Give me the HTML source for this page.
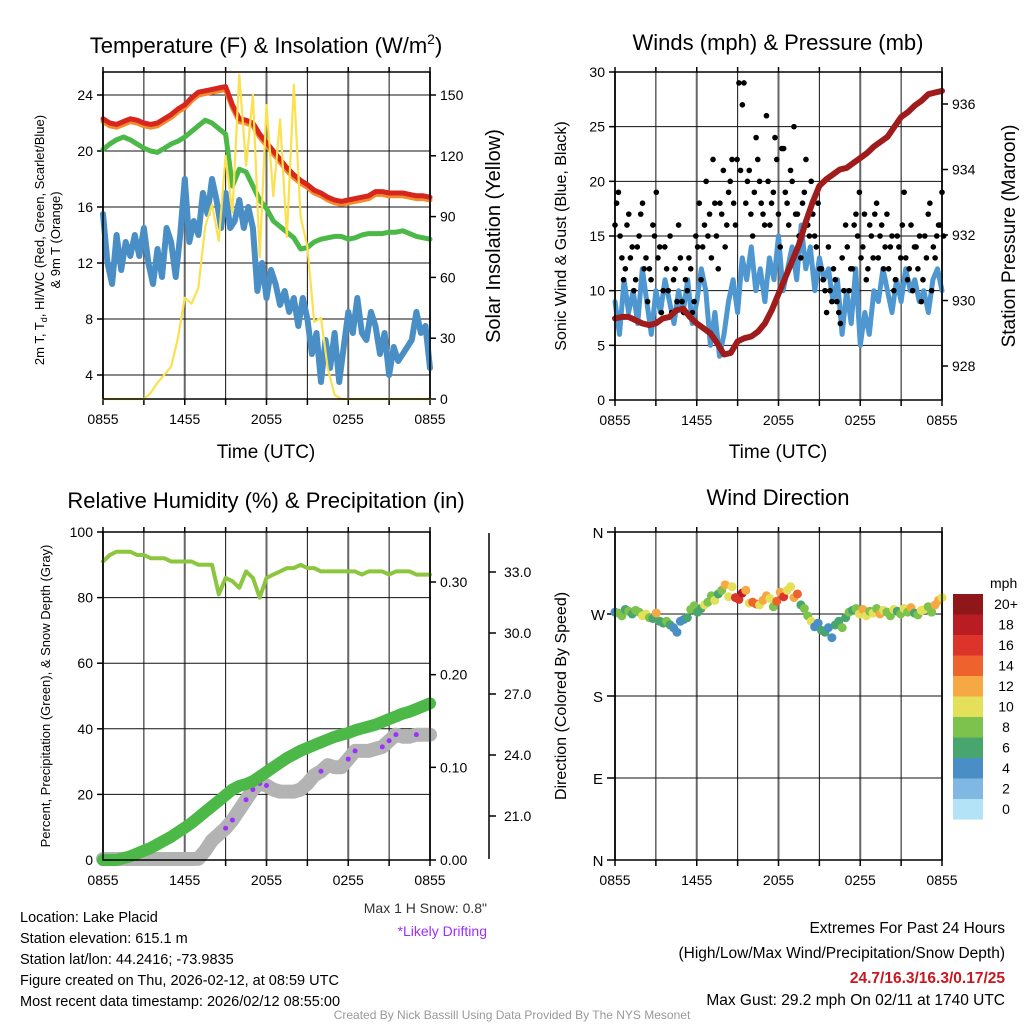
<!DOCTYPE html>
<html><head><meta charset="utf-8"><style>
html,body{margin:0;padding:0;background:#fff;}
svg{display:block;font-family:"Liberation Sans",sans-serif;}
</style></head><body>
<svg id="chart" width="1024" height="1024" viewBox="0 0 1024 1024" xmlns="http://www.w3.org/2000/svg">
<rect x="0" y="0" width="1024" height="1024" fill="#fff"/>
<g id="layer"></g>
<text x="266" y="53" font-size="22" text-anchor="middle">Temperature (F) &amp; Insolation (W/m<tspan dy="-9" font-size="14">2</tspan><tspan dy="9">)</tspan></text>
<text x="778" y="50" font-size="22" text-anchor="middle">Winds (mph) &amp; Pressure (mb)</text>
<text x="266" y="508" font-size="22" text-anchor="middle">Relative Humidity (%) &amp; Precipitation (in)</text>
<text x="778" y="505" font-size="22" text-anchor="middle">Wind Direction</text>
<text x="266" y="458" font-size="19" text-anchor="middle">Time (UTC)</text>
<text x="778" y="458" font-size="19" text-anchor="middle">Time (UTC)</text>
<text transform="translate(44,240) rotate(-90)" font-size="13" text-anchor="middle">2m T, T<tspan dy="3" font-size="9">d</tspan><tspan dy="-3">, HI/WC (Red, Green, Scarlet/Blue)</tspan></text>
<text transform="translate(60,240) rotate(-90)" font-size="13" text-anchor="middle">&amp; 9m T (Orange)</text>
<text transform="translate(500,236) rotate(-90)" font-size="20" text-anchor="middle">Solar Insolation (Yellow)</text>
<text transform="translate(566,236) rotate(-90)" font-size="16" text-anchor="middle">Sonic Wind &amp; Gust (Blue, Black)</text>
<text transform="translate(1015,236) rotate(-90)" font-size="19" text-anchor="middle">Station Pressure (Maroon)</text>
<text transform="translate(50,696) rotate(-90)" font-size="13" text-anchor="middle">Percent, Precipitation (Green), &amp; Snow Depth (Gray)</text>
<text transform="translate(566,696) rotate(-90)" font-size="16" text-anchor="middle">Direction (Colored By Speed)</text>
<text x="487" y="913" font-size="14" text-anchor="end" fill="#333">Max 1 H Snow: 0.8"</text>
<text x="487" y="936" font-size="14" text-anchor="end" fill="#9b30ff">*Likely Drifting</text>
<g font-size="14.5">
<text x="20" y="922">Location: Lake Placid</text>
<text x="20" y="943">Station elevation: 615.1 m</text>
<text x="20" y="964">Station lat/lon: 44.2416; -73.9835</text>
<text x="20" y="985">Figure created on Thu, 2026-02-12, at 08:59 UTC</text>
<text x="20" y="1006">Most recent data timestamp: 2026/02/12 08:55:00</text>
</g>
<g font-size="15.5" text-anchor="end">
<text x="1005" y="933">Extremes For Past 24 Hours</text>
<text x="1005" y="958">(High/Low/Max Wind/Precipitation/Snow Depth)</text>
<text x="1005" y="983" fill="#c8171e" font-weight="bold">24.7/16.3/16.3/0.17/25</text>
<text x="1005" y="1005">Max Gust: 29.2 mph On 02/11 at 1740 UTC</text>
</g>
<text x="512" y="1019" font-size="12" text-anchor="middle" fill="#999">Created By Nick Bassill Using Data Provided By The NYS Mesonet</text>
</svg>
<script>
const xTickLabels = ['0855','1455','2055','0255','0855'];
const tempTicks = [4,8,12,16,20,24];
const solarTicks = [0,30,60,90,120,150];
const windTicks = [0,5,10,15,20,25,30];
const pressTicks = [928,930,932,934,936];
const rhTicks = [0,20,40,60,80,100];
const precipTicks = [0,0.1,0.2,0.3];
const snowTicks = [21,24,27,30,33];
const dirTickLabels = ['N','E','S','W','N'];
const dirTicks = [0,90,180,270,360];
const speedBins = ['0','2','4','6','8','10','12','14','16','18','20+'];
const speedColors = ['#b3e3f7','#7fb9e3','#4a8ec6','#48a56e','#7cc24c','#e5e05a','#f5a843','#ee622d','#dc342a','#ba1c24','#901719'];

const tempRed = [22.3,22.0,21.9,22.1,22.3,22.2,22.0,21.9,22.0,22.3,22.6,23.0,23.3,23.8,24.2,24.3,24.4,24.5,24.6,23.3,22.3,22.2,22.0,21.2,20.6,20.0,19.4,18.8,18.3,17.9,17.6,17.2,17.0,16.7,16.5,16.4,16.5,16.6,16.7,16.8,17.1,17.1,17.0,17.0,17.0,16.9,16.8,16.8,16.7];
const temp9m = [22.1,21.8,21.7,21.9,22.1,22.0,21.8,21.7,21.8,22.1,22.4,22.8,23.1,23.6,24.0,24.1,24.2,24.3,24.4,23.1,22.1,22.0,21.8,21.0,20.4,19.8,19.2,18.6,18.1,17.7,17.4,17.0,16.8,16.5,16.3,16.2,16.3,16.4,16.5,16.6,16.9,16.9,16.8,16.8,16.8,16.7,16.6,16.6,16.5];
const tempGreen = [20.1,20.5,20.8,21.0,20.8,20.5,20.2,20.0,19.9,20.2,20.5,20.7,21.0,21.4,21.8,22.2,22.0,21.6,21.2,17.5,18.7,18.5,17.5,16.5,15.9,15.0,14.6,14.2,13.8,13.0,13.1,13.5,13.7,13.8,13.9,13.9,13.7,13.8,14.0,14.1,14.1,14.1,14.2,14.2,14.3,14.1,13.9,13.8,13.7];
const dewBlue = [15.5,12,10.5,14,11.5,13.5,12.5,14,12.5,14.5,12,10.5,13,11,14.5,13.5,11,14,18,13.5,15,14,17,15.5,18,16.5,14.5,17,14.5,15,16.5,14.5,16,14.5,10,12,9.5,11.5,10.5,9,10,8.5,9.5,7.5,9.5,8,5.5,7,3.5,6.5,4.5,7,3.5,6,8.5,7,9.5,7,6.5,8.5,7.5,5.5,7,4,6,5,5.5,6,6.5,8.5,7,7.5,4.5];
const solar = [0,0,0,0,0,0,0,3,8,12,16,30,50,47,55,85,96,78,120,92,160,115,150,70,145,100,138,80,155,90,75,38,40,15,2,0,0,0,0,0,0,0,0,0,0,0,0,0,0];

const windSpeed = [9,6,11,8,10,7,12,9,6,10,8,11,9,7,10,8,11,7,9,12,10,5,8,4,6,9,11,8,13,11,14,10,12,9,13,11,15,10,12,14,11,16,12,14,10,13,11,12,9,11,6,10,7,12,5,8,6,10,9,12,10,8,11,9,12,10,11,9,10,8,11,12,10];
const gusts = [16,19,13,12,17,14,11,15,18,13,12,16,19,14,10,12,15,11,9,13,8,10,12,9,14,11,16,15,13,18,12,17,14,19,22,16,29,27,18,21,15,24,20,17,26,16,19,22,14,23,18,21,25,17,13,19,16,20,15,18,12,10,14,9,11,8,13,16,10,12,17,19,14,11,16,13,18,15,12,17,14,10,15,13,19,11,16,14,12,9,15,17,10,13,16,19];
const gusts2 = [18,15,11,16,13,10,14,17,12,9,11,15,13,8,14,10,8,12,16,9,11,13,8,15,18,14,20,17,22,15,18,21,16,20,18,22,21,29,20,17,19,22,18,16,20,18,24,17,23,19,16,20,17,15,18,22,15,17,14,12,11,8,10,12,9,7,10,14,12,16,15,13,17,12,15,17,13,16,14,12,15,11,14,16,13,12,10,14,15,11,13,18,14,15,16,15];
const pressure = [929.45,929.5,929.5,929.4,929.3,929.25,929.3,929.45,929.5,929.7,929.75,929.5,929.3,929.15,929.0,928.7,928.35,928.4,928.75,928.85,928.9,929.05,929.3,929.7,930.2,930.7,931.2,931.7,932.4,933.0,933.5,933.7,933.85,934.0,934.05,934.2,934.35,934.5,934.7,934.85,935.0,935.3,935.6,935.75,935.95,936.1,936.3,936.35,936.4];

const rh = [91,93,94,94,94,93,93,92,92,92,91,91,91,91,90,90,90,81,86,85,83,88,86,80,86,87,88,89,89,90,89,89,88,88,88,88,88,88,87,88,88,88,87,88,88,88,87,87,87];
const precip = [0,0,0,0.002,0.004,0.007,0.010,0.013,0.017,0.021,0.025,0.030,0.035,0.040,0.046,0.052,0.058,0.064,0.070,0.076,0.080,0.082,0.085,0.090,0.095,0.100,0.105,0.110,0.114,0.118,0.121,0.124,0.127,0.130,0.133,0.135,0.137,0.140,0.142,0.144,0.146,0.149,0.152,0.155,0.158,0.160,0.163,0.166,0.169];
const snowDepth = [18.5,18.5,18.5,18.5,18.5,18.5,18.5,18.5,18.5,18.5,18.5,18.5,18.5,18.5,18.9,19.3,19.8,20.1,20.4,20.8,21.3,21.8,22.3,22.6,22.5,22.3,22.2,22.2,22.2,22.3,22.6,23.0,23.2,23.5,23.4,23.4,23.8,24.2,24.2,24.2,24.3,24.4,24.7,25.0,24.9,24.9,25.0,25.0,25.0];
const driftIdx = [18,19,21,22,23,24,32,36,37,41,42,43,46];

const windDir = [272,271,268,275,273,270,274,272,268,270,266,265,271,262,260,262,258,255,250,262,264,266,275,279,272,276,280,283,290,285,292,296,302,289,300,288,286,293,296,282,283,281,280,285,290,287,278,284,294,289,296,300,288,292,280,276,268,262,256,260,252,250,255,244,258,262,255,266,272,274,276,270,275,268,273,271,276,270,274,272,268,275,273,270,276,272,277,271,269,274,275,278,272,280,285,288];
const dirSpeed = [5,9,8,7,8,6,8,9,10,11,8,7,12,7,6,8,7,5,4,5,4,6,8,9,7,6,10,9,8,11,6,9,12,10,11,16,17,18,12,11,15,14,10,12,13,11,9,14,12,17,10,11,13,14,7,8,9,10,4,5,6,7,5,4,6,7,8,6,9,7,8,11,12,10,9,11,8,13,10,9,8,11,7,9,10,8,12,7,9,11,10,8,9,12,13,11];

const NS='http://www.w3.org/2000/svg';
const layer=document.getElementById('layer');
function mk(tag,a,parent){const e=document.createElementNS(NS,tag);for(const k in a)e.setAttribute(k,a[k]);(parent||layer).appendChild(e);return e;}
function lin(d0,d1,p0,p1){return v=>p0+(v-d0)/(d1-d0)*(p1-p0);}
function tAt(i,n){return i*24/(n-1);}
function pathFrom(arr,X,Y,clipY){return arr.map((v,i)=>{let y=Y(v);if(clipY!==undefined)y=Math.min(y,clipY);return (i?'L':'M')+X(tAt(i,arr.length)).toFixed(1)+','+y.toFixed(1);}).join('');}

function frame(x0,x1,y0,y1,X,hVals,hY){
  for(let h=0;h<=24;h+=3){
    const ln=mk('line',{x1:X(h),x2:X(h),y1:y0,y2:y1,stroke:h%6===0?'#666':'#111','stroke-width':h%6===0?2:1});
    
    
    const tk=mk('line',{x1:X(h),x2:X(h),y1:y1,y2:y1+6,stroke:'#000','stroke-width':1.5});
    
    
    const tt=mk('line',{x1:X(h),x2:X(h),y1:y0-5,y2:y0,stroke:'#000','stroke-width':1.5});
    
    
  }
  hVals.forEach(v=>{
    const ln=mk('line',{x1:x0,x2:x1,y1:hY(v),y2:hY(v),stroke:'#111','stroke-width':1});
    
    
  });
  xTickLabels.forEach((s,i)=>{
    const t=mk('text',{x:X(i*6),y:y1+25,'font-size':14,'text-anchor':'middle'});
    t.textContent=s;
    
    
  });
}
function box(x0,x1,y0,y1){
  const r=mk('rect',{x:x0,y:y0,width:x1-x0,height:y1-y0,fill:'none',stroke:'#000','stroke-width':1.5});
  
  
}
function leftTicks(vals,Y,x,fmt){
  vals.forEach(v=>{
    const t=mk('text',{x:x-10,y:Y(v)+5,'font-size':14,'text-anchor':'end'});
    t.textContent=fmt?fmt(v):v;
    
    
    const tk=mk('line',{x1:x-6,x2:x,y1:Y(v),y2:Y(v),stroke:'#000','stroke-width':1.5});
    
    
  });
}
function rightTicks(vals,Y,x,fmt){
  vals.forEach(v=>{
    const t=mk('text',{x:x+10,y:Y(v)+5,'font-size':14,'text-anchor':'start'});
    t.textContent=fmt?fmt(v):v;
    
    
    const tk=mk('line',{x1:x,x2:x+6,y1:Y(v),y2:Y(v),stroke:'#000','stroke-width':1.5});
    
    
  });
}
function line(d,color,w,name){
  const p=mk('path',{d:d,fill:'none',stroke:color,'stroke-width':w,'stroke-linejoin':'round','stroke-linecap':'round'});
  
  
  return p;
}

const X1=lin(0,24,103,430), Yt=lin(4,24,375,95), Ys=lin(0,150,399,95);
frame(103,430,72,399,X1,tempTicks,Yt);
leftTicks(tempTicks,Yt,103);
rightTicks(solarTicks,Ys,430);
line(pathFrom(dewBlue,X1,Yt),'#4a8ec6',6,'dewpoint-line');
line(pathFrom(tempGreen,X1,Yt),'#4cb848',5,'heat-index-line');
line(pathFrom(temp9m,X1,Yt),'#f58a2c',5,'temp-9m-line');
line(pathFrom(tempRed,X1,Yt),'#d7261e',5,'temp-2m-line');
line(pathFrom(solar,X1,Ys),'#fbe14e',2.2,'insolation-line');
box(103,430,72,399);

const X2=lin(0,24,615,942), Yw=lin(0,30,400,72), Yp=lin(928,936,366,104);
frame(615,942,72,400,X2,[5,10,15,20,25],Yw);
leftTicks(windTicks,Yw,615);
rightTicks(pressTicks,Yp,942);
line(pathFrom(windSpeed,X2,Yw),'#4e97d1',5,'wind-speed-line');
[gusts,gusts2].forEach((arr,k)=>{
  arr.forEach((v,i)=>{
    const c=mk('circle',{cx:X2(tAt(i,arr.length)+k*0.12),cy:Yw(v),r:2.8,fill:'#000'});
    
    
  });
});
line(pathFrom(pressure,X2,Yp),'#a01b1b',6,'pressure-line');
box(615,942,72,400);

const Yrh=lin(0,100,860,532), Ypr=lin(0,0.3,860,582), Ysn=lin(21,33,816,572);
frame(103,430,532,860,X1,[20,40,60,80],Yrh);
leftTicks(rhTicks,Yrh,103);
rightTicks(precipTicks,Ypr,430,v=>v.toFixed(2));
const sAx=mk('line',{x1:489,x2:489,y1:533,y2:859,stroke:'#000','stroke-width':1.5});


snowTicks.forEach(v=>{
  const t=mk('text',{x:504,y:Ysn(v)+5,'font-size':14});
  t.textContent=v.toFixed(1);
  
  
  const tk=mk('line',{x1:489,x2:496,y1:Ysn(v),y2:Ysn(v),stroke:'#000','stroke-width':1.5});
  
  
});
line(pathFrom(snowDepth,X1,Ysn,859),'#b3b3b3',14,'snow-depth-line');
driftIdx.forEach(i=>{
  const c=mk('circle',{cx:X1(tAt(i,snowDepth.length)),cy:Math.min(Ysn(snowDepth[i]),859),r:2.5,fill:'#9b30ff'});
  
  
});
line(pathFrom(precip,X1,Ypr),'#4cb848',12,'precipitation-line');
line(pathFrom(rh,X1,Yrh),'#8cc63f',4,'humidity-line');
box(103,430,532,860);

const Yd=lin(0,360,860,532);
frame(615,942,532,860,X2,[90,180,270],Yd);
dirTicks.forEach((v,i)=>{
  const t=mk('text',{x:598,y:Yd(v)+6,'font-size':15,'text-anchor':'middle'});
  t.textContent=dirTickLabels[i];
  
  
  const tk=mk('line',{x1:607,x2:615,y1:Yd(v),y2:Yd(v),stroke:'#000','stroke-width':1.5});
  
  
});
windDir.forEach((d,i)=>{
  const b=Math.min(10,Math.floor(dirSpeed[i]/2));
  const c=mk('circle',{cx:X2(tAt(i,windDir.length)),cy:Yd(d),r:4.5,fill:speedColors[b]});
  
  
});
box(615,942,532,860);

const cbT=mk('text',{x:990,y:588,'font-size':14});
cbT.textContent='mph';


speedBins.forEach((lab,i)=>{
  const k=10-i, y=594+i*20.5;
  const r=mk('rect',{x:953,y:y,width:30,height:20.6,fill:speedColors[k]});
  
  
  const t=mk('text',{x:1006,y:y+15,'font-size':14,'text-anchor':'middle'});
  t.textContent=speedBins[k];
  
  
});
</script>
</body></html>
